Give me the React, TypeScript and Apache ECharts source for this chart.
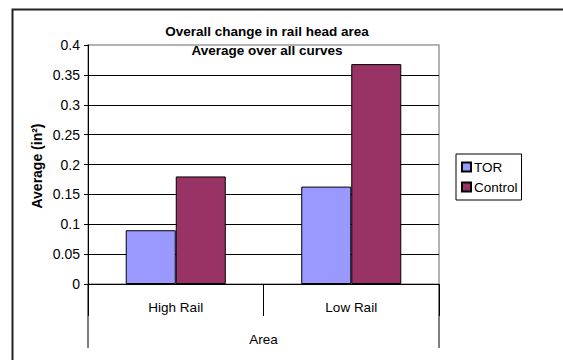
import React, { useEffect, useRef } from "react";
import * as echarts from "echarts";

const categories = ["High Rail", "Low Rail"];
const torValues = [0.09, 0.163];
const controlValues = [0.18, 0.368];
const seriesNames = ["TOR", "Control"];
const yMin = 0;
const yMax = 0.4;
const yStep = 0.05;
const titleLines = ["Overall change in rail head area", "Average over all curves"];
const yTitle = "Average (in²)";
const xTitle = "Area";

const FONT = "'Liberation Sans', Arial, sans-serif";
const GL = 88;
const GR = 439;
const GT = 45;
const GB = 284;
const W = 563;
const H = 360;

export default function App() {
  const ref = useRef<HTMLDivElement>(null);
  useEffect(() => {
    if (!ref.current) return;
    const chart = echarts.init(ref.current, undefined, { renderer: "svg" });
    chart.setOption({
      animation: false,
      backgroundColor: "#ffffff",
      textStyle: { fontFamily: FONT },
      grid: {
        left: GL,
        right: W - GR,
        top: GT,
        bottom: H - GB,
        show: true,
        borderColor: "#9a9a9a",
        borderWidth: 1.5,
        backgroundColor: "transparent",
      },
      legend: {
        orient: "vertical",
        left: 456,
        top: 154,
        data: seriesNames,
        icon: "rect",
        itemWidth: 9,
        itemHeight: 9,
        itemGap: 6,
        padding: [6, 4, 6, 5],
        borderColor: "#000",
        borderWidth: 1,
        textStyle: { fontFamily: FONT, fontSize: 13.5, color: "#000", padding: [0, 0, 0, -2] },
      },
      xAxis: {
        type: "category",
        data: categories,
        axisLine: { lineStyle: { color: "#000", width: 1 } },
        axisTick: { show: true, length: 32, alignWithLabel: false, lineStyle: { color: "#000" } },
        axisLabel: { fontFamily: FONT, fontSize: 13.5, color: "#000", margin: 16 },
        name: xTitle,
        nameLocation: "middle",
        nameGap: 48,
        nameTextStyle: { fontFamily: FONT, fontSize: 13.5, color: "#000" },
      },
      yAxis: {
        type: "value",
        min: yMin,
        max: yMax,
        interval: yStep,
        axisLine: { show: true, lineStyle: { color: "#000", width: 1 } },
        axisTick: { show: true, length: 4, lineStyle: { color: "#000" } },
        axisLabel: {
          fontFamily: FONT,
          fontSize: 14,
          color: "#000",
          margin: 8,
          formatter: (v: number) => String(+v.toFixed(2)),
        },
        splitLine: { show: true, showMaxLine: false, lineStyle: { color: "#000", width: 1 } },
      },
      series: [
        {
          name: seriesNames[0],
          type: "bar",
          data: torValues,
          barGap: "0%",
          barCategoryGap: "43%",
          itemStyle: { color: "#9999FF", borderColor: "#000", borderWidth: 1 },
        },
        {
          name: seriesNames[1],
          type: "bar",
          data: controlValues,
          barGap: "0%",
          barCategoryGap: "43%",
          itemStyle: { color: "#993366", borderColor: "#000", borderWidth: 1 },
        },
      ],
      graphic: [
        {
          type: "polyline",
          shape: { points: [[12.5, 380], [12.5, 9.5], [580, 9.5]] },
          style: { stroke: "#222", lineWidth: 2, fill: "none" },
          silent: true,
        },
        {
          type: "line",
          shape: { x1: GL, y1: GB, x2: GL, y2: 348 },
          style: { stroke: "#000", lineWidth: 1 },
        },
        {
          type: "line",
          shape: { x1: GR, y1: GB, x2: GR, y2: 348 },
          style: { stroke: "#000", lineWidth: 1 },
        },
        {
          type: "text",
          x: 267,
          y: 31,
          style: {
            text: titleLines[0],
            font: `bold 13.5px ${FONT}`,
            fill: "#000",
            align: "center",
            verticalAlign: "middle",
          },
        },
        {
          type: "text",
          x: 267,
          y: 50,
          style: {
            text: titleLines[1],
            font: `bold 13.5px ${FONT}`,
            fill: "#000",
            align: "center",
            verticalAlign: "middle",
          },
        },
        {
          type: "text",
          x: 37,
          y: 166,
          rotation: Math.PI / 2,
          style: {
            text: yTitle,
            font: `bold 14px ${FONT}`,
            fill: "#000",
            align: "center",
            verticalAlign: "middle",
          },
        },
      ],
    });
    return () => chart.dispose();
  }, []);
  return (
    <div
      ref={ref}
      style={{ position: "fixed", left: 0, top: 0, width: W, height: H, background: "#fff" }}
    />
  );
}
